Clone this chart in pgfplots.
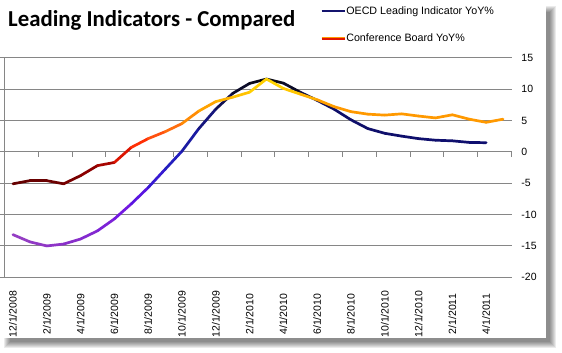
\documentclass[border=0pt]{standalone}
\usepackage{pgfplots}
\usepackage{pgfplotstable}
\pgfplotsset{compat=1.18}
\usetikzlibrary{backgrounds}
\usepackage{fontspec}
\setmainfont{Liberation Sans}
\newfontfamily\titlefont{Carlito}
\definecolor{gridgray}{RGB}{134,134,134}
\definecolor{oecdnavy}{RGB}{20,20,110}
\definecolor{cborange}{RGB}{255,153,0}
\definecolor{cbred}{RGB}{225,20,0}

\pgfplotstableread{
i val
0 -13.2
1 -14.35
2 -15.0
3 -14.7
4 -13.9
5 -12.6
6 -10.7
7 -8.3
8 -5.7
9 -2.8
10 0.1
11 3.7
12 6.8
13 9.3
14 10.9
15 11.6
16 10.95
17 9.5
18 8.2
19 6.8
20 5.1
21 3.7
22 2.95
23 2.5
24 2.1
25 1.85
26 1.75
27 1.5
28 1.45
}\oecd

\pgfplotstableread{
i val
0 -5.1
1 -4.6
2 -4.6
3 -5.1
4 -3.8
5 -2.2
6 -1.7
7 0.7
8 2.1
9 3.2
10 4.5
11 6.5
12 8.0
13 8.7
14 9.5
15 11.6
16 10.1
17 9.2
18 8.3
19 7.2
20 6.4
21 6.0
22 5.85
23 6.05
24 5.7
25 5.4
26 5.9
27 5.2
28 4.7
29 5.2
}\cb

\pgfplotsset{
  colormap={oecdmap}{rgb255(0pt)=(150,65,195) rgb255(3pt)=(140,50,200) rgb255(5pt)=(130,40,210) rgb255(7pt)=(110,20,230) rgb255(8pt)=(70,22,220) rgb255(9pt)=(40,30,200) rgb255(10pt)=(30,30,180) rgb255(11pt)=(25,25,145) rgb255(12pt)=(20,20,105) rgb255(13pt)=(15,15,60) rgb255(14pt)=(10,10,25) rgb255(16pt)=(10,10,25) rgb255(17pt)=(15,15,55) rgb255(18pt)=(15,15,85) rgb255(19pt)=(15,15,105) rgb255(29pt)=(15,15,112)},
  colormap={cbmap}{rgb255(0pt)=(100,0,0) rgb255(3pt)=(110,0,0) rgb255(5pt)=(150,0,0) rgb255(6pt)=(185,10,0) rgb255(7pt)=(255,30,0) rgb255(8pt)=(255,65,10) rgb255(9pt)=(255,95,20) rgb255(10pt)=(255,125,10) rgb255(11pt)=(255,155,0) rgb255(12pt)=(255,172,0) rgb255(13pt)=(255,188,0) rgb255(14pt)=(255,200,0) rgb255(15pt)=(255,215,0) rgb255(16pt)=(255,208,0) rgb255(17pt)=(255,190,0) rgb255(18pt)=(255,165,0) rgb255(19pt)=(255,153,0) rgb255(29pt)=(255,153,0)},
}

\begin{document}
\begin{tikzpicture}[x=1pt,y=1pt]
\begin{scope}[shift={(4.5pt,75.7pt)}]
\begin{axis}[
  at={(0pt,0pt)}, anchor=south west,
  width=507pt, height=219.6pt, scale only axis,
  xmin=-0.5, xmax=29.5, ymin=-20, ymax=15,
  axis line style={draw=none},
  ytick={-20,-15,...,15},
  ymajorgrids, major grid style={draw=gridgray, line width=0.9pt},
  ytick pos=left, yticklabel pos=right,
  tick align=outside, major tick length=4pt,
  y tick style={draw=gridgray, line width=0.9pt},
  xtick={0,2,...,28},
  xticklabels={12/1/2008,2/1/2009,4/1/2009,6/1/2009,8/1/2009,10/1/2009,12/1/2009,2/1/2010,4/1/2010,6/1/2010,8/1/2010,10/1/2010,12/1/2010,2/1/2011,4/1/2011},
  x tick style={draw=none},
  xticklabel style={text width=65.4pt, align=center, inner sep=0pt, rotate=90, anchor=east},
  yticklabel style={anchor=west, xshift=2.4pt},
  tick label style={font=\fontsize{10.5}{12}\selectfont, text=black},
  /pgf/number format/assume math mode=true,
  point meta min=0, point meta max=29,
  clip=false,
  legend style={draw=none, fill=none, at={(0.6227,1.235)}, anchor=north west, inner sep=0pt, row sep=18pt, font=\fontsize{10.7}{12}\selectfont, nodes={inner sep=0pt}},
  legend cell align=left,
  legend image code/.code={\draw[#1, line width=2.6pt] (0pt,0pt) -- (23.3pt,0pt);},
]
\draw[gridgray, line width=0.9pt] (rel axis cs:0,0) -- (rel axis cs:0,1);
\pgfplotsinvokeforeach{1.5,3.5,5.5,7.5,9.5,11.5,13.5,15.5,17.5,19.5,21.5,23.5,25.5,27.5,29.5}{
  \draw[gridgray, line width=0.9pt] (axis cs:#1,0) -- ++(0pt,-5pt);
}
\addlegendimage{oecdnavy}
\addlegendentry{OECD Leading Indicator YoY\%}
\addlegendimage{legend image code/.code={\draw[cbred, line width=1.4pt] (0pt,-0.7pt) -- (23.3pt,-0.7pt); \draw[cborange, line width=1.4pt] (0pt,0.7pt) -- (23.3pt,0.7pt);}}
\addlegendentry{Conference Board YoY\%}
\addplot[mesh, colormap name=oecdmap, point meta=x, line width=2.7pt, line cap=round, forget plot] table[x=i, y=val] {\oecd};
\addplot[mesh, colormap name=cbmap, point meta=x, line width=2.7pt, line cap=round, forget plot] table[x=i, y=val] {\cb};
\end{axis}
\end{scope}
\node[anchor=base west, font=\titlefont\bfseries\fontsize{22.8}{27}\selectfont, inner sep=0pt] at (8,326.3) {Leading Indicators - Compared};
\begin{scope}[on background layer]
\fill[white] (0,0) rectangle (562,353);
\foreach \k in {0,...,6} {\fill[black,opacity=0.08] (4+\k,5+\k) rectangle (556-\k,347-\k);}
\fill[white] (0,15) rectangle (546,353);
\end{scope}
\pgfresetboundingbox
\useasboundingbox (0,0) rectangle (562,353);
\end{tikzpicture}
\end{document}
